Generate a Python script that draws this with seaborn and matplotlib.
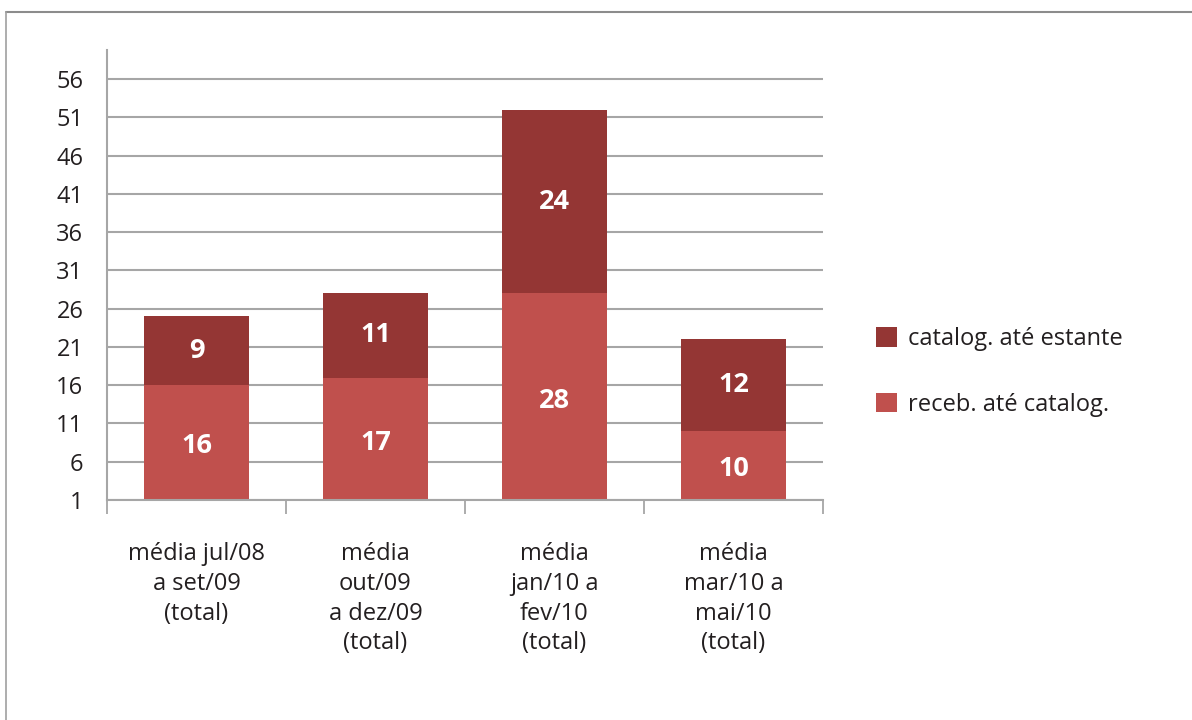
import matplotlib
matplotlib.use("Agg")
import matplotlib.pyplot as plt
import seaborn as sns
import pandas as pd
import numpy as np
from matplotlib.patches import Patch
from matplotlib.lines import Line2D

categories = ["média jul/08\na set/09\n(total)",
              "média\nout/09\na dez/09\n(total)",
              "média\njan/10 a\nfev/10\n(total)",
              "média\nmar/10 a\nmai/10\n(total)"]
receb_ate_catalog = [16, 17, 28, 10]
catalog_ate_estante = [9, 11, 24, 12]
y_ticks = [1, 6, 11, 16, 21, 26, 31, 36, 41, 46, 51, 56]

c_light = "#C0504D"
c_dark = "#943634"
grid_c = "#A6A6A6"

sns.set_theme(style="white")
plt.rcParams['font.family'] = ['Open Sans', 'DejaVu Sans']

df = pd.DataFrame({"cat": categories,
                   "low": receb_ate_catalog,
                   "high": catalog_ate_estante})
df["total"] = df["low"] + df["high"]

fig = plt.figure(figsize=(11.92, 7.2), dpi=100)
ax = fig.add_axes([107/1192, 1 - 500/720, (823-107)/1192, (500-50)/720])

sns.barplot(data=df, x="cat", y="total", color=c_dark, saturation=1,
            width=0.59, ax=ax, zorder=3, linewidth=0)
sns.barplot(data=df, x="cat", y="low", color=c_light, saturation=1,
            width=0.59, ax=ax, zorder=4, linewidth=0)

ax.set_ylim(1, 59.8)
ax.set_xlim(-0.5, 3.5)
ax.set_yticks(y_ticks)
ax.set_yticklabels([str(t) for t in y_ticks], fontsize=17, color="#231F20")
for t in y_ticks:
    ax.axhline(t, color=grid_c, lw=1.5, zorder=1)

ax.set_xticks([-0.5, 0.5, 1.5, 2.5, 3.5])
ax.set_xticklabels([])
ax.tick_params(axis="x", which="major", direction="out", length=10, width=1.3,
               color=grid_c, bottom=True)
ax.tick_params(axis="y", length=0, pad=17)
ax.set_xticks(range(len(categories)), minor=True)
ax.set_xticklabels(categories, minor=True, fontsize=17, color="#231F20",
                   linespacing=1.33)
ax.tick_params(axis="x", which="minor", length=0, pad=30)
for lab in ax.get_xticklabels(minor=True):
    lab.set_horizontalalignment("center")
    lab.set_verticalalignment("top")
ax.set_xlabel("")
ax.set_ylabel("")

for s in ["top", "right"]:
    ax.spines[s].set_visible(False)
ax.spines["left"].set_color(grid_c)
ax.spines["left"].set_linewidth(1.5)
ax.spines["bottom"].set_color(grid_c)
ax.spines["bottom"].set_linewidth(1.5)
ax.spines["bottom"].set_zorder(5)

for i, (lo, hi) in enumerate(zip(receb_ate_catalog, catalog_ate_estante)):
    ax.text(i, lo / 2, str(lo), ha="center", va="center", color="white",
            fontsize=19.5, fontweight="bold", zorder=6)
    ax.text(i, lo + hi / 2, str(hi), ha="center", va="center", color="white",
            fontsize=19.5, fontweight="bold", zorder=6)

handles = [Patch(facecolor=c_dark, edgecolor="none"),
           Patch(facecolor=c_light, edgecolor="none")]
fig.legend(handles, ["catalog. até estante", "receb. até catalog."],
           loc="center left", bbox_to_anchor=(855/1192, 1 - 372/720),
           frameon=False, fontsize=17, handlelength=0.9, handleheight=0.9,
           handletextpad=0.45, labelspacing=1.75, labelcolor="#231F20")

# outer border (top and left)
fig.add_artist(Line2D([6/1192, 1], [1 - 12/720, 1 - 12/720], color="#8C8C8C", lw=1.5,
                      transform=fig.transFigure))
fig.add_artist(Line2D([6/1192, 6/1192], [0, 1 - 12/720], color="#A0A0A0", lw=1.2,
                      transform=fig.transFigure))

fig.savefig("out.png", dpi=100)
